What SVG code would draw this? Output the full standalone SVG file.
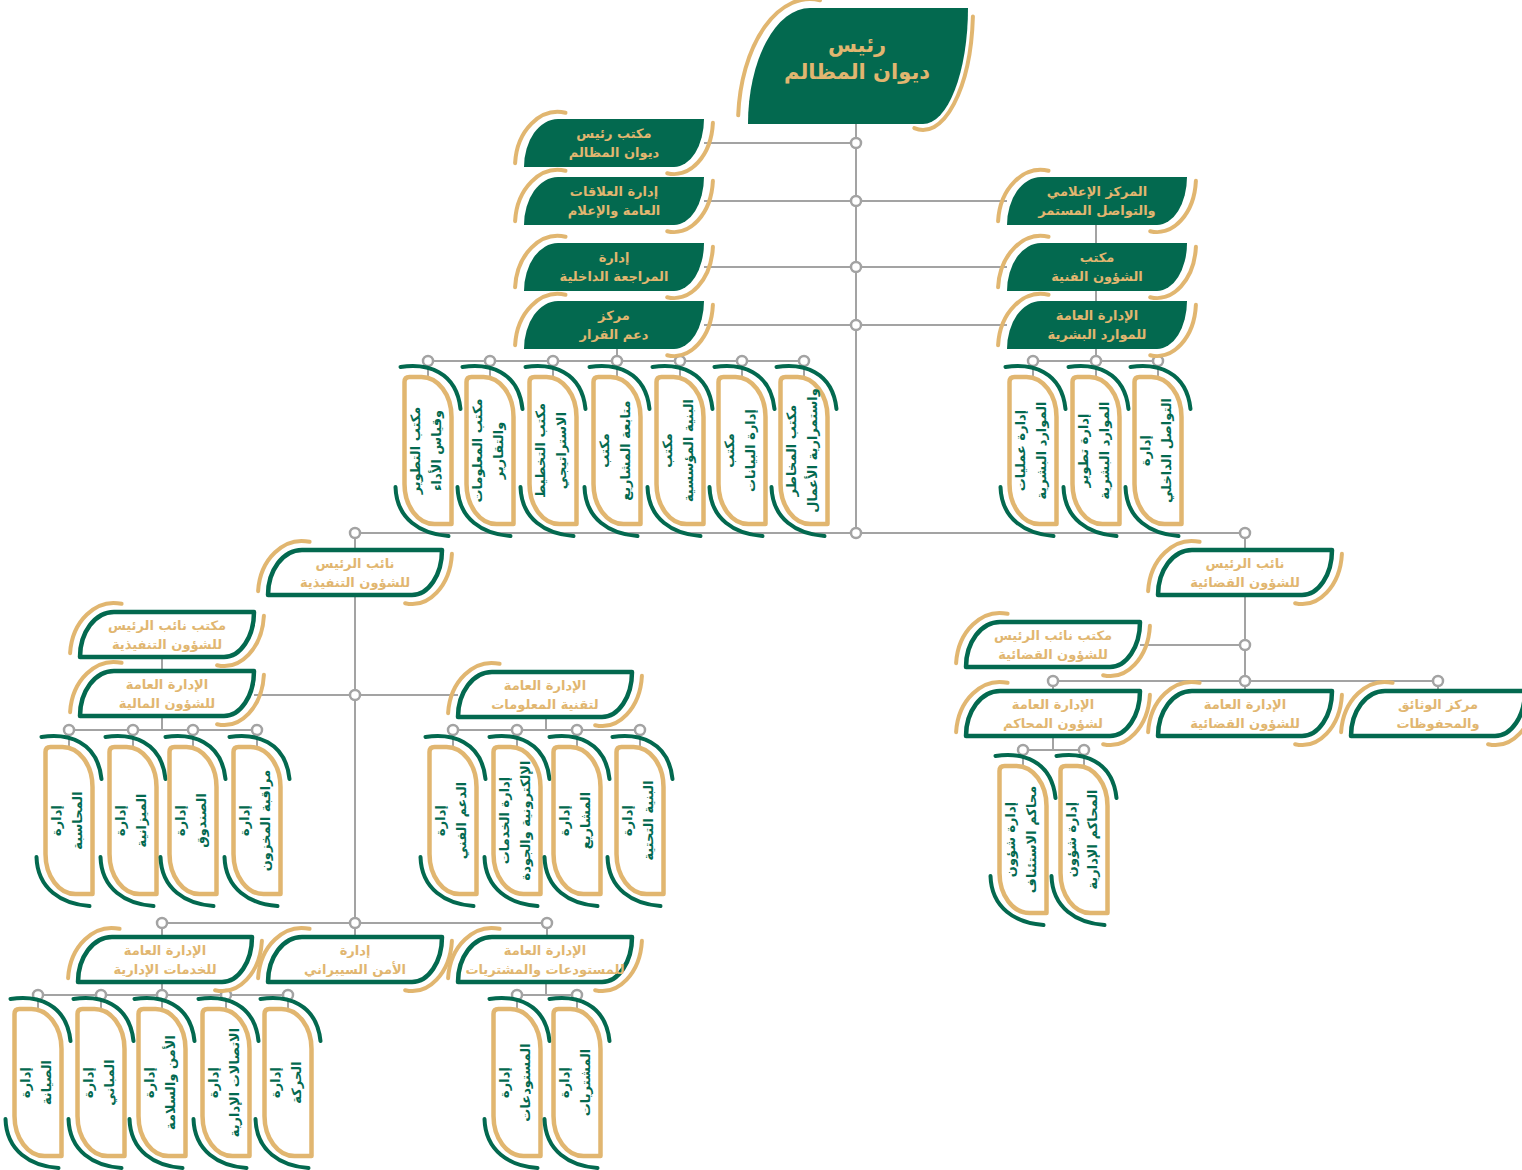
<svg xmlns="http://www.w3.org/2000/svg" xmlns:xlink="http://www.w3.org/1999/xlink" width="1522" height="1170" viewBox="0 0 1522 1170">
<style>
.hl{fill:#03694f}
.ga{fill:none;stroke:#e1b670;stroke-width:4;stroke-linecap:round}
.ol{fill:#fff;stroke:#03694f;stroke-width:4.5;stroke-linejoin:round}
.vn{fill:#fff;stroke:#e1b670;stroke-width:4.5;stroke-linejoin:round}
.gr{fill:none;stroke:#03694f;stroke-width:4;stroke-linecap:round}
.con{fill:none;stroke:#a3a3a3;stroke-width:2}
.dot{fill:#fff;stroke:#a3a3a3;stroke-width:2.5}
.th{font-family:"DejaVu Sans",sans-serif;font-weight:bold;font-size:13px;fill:#e1b670;text-anchor:middle}
.tt{font-family:"DejaVu Sans",sans-serif;font-weight:bold;font-size:21px;fill:#e1b670;text-anchor:middle}
.tv{font-family:"DejaVu Sans",sans-serif;font-weight:bold;font-size:13px;fill:#03694f;text-anchor:middle}
</style>
<defs>
<g id="hf">
<path class="hl" d="M0,48 A34,48 0 0 1 34,0 H180 A30,48 0 0 1 150,48 Z"/>
<path class="ga" d="M-8.9,44.2 A43,55 0 0 1 41.5,-6.2"/>
<path class="ga" d="M188.9,3.8 A39,55 0 0 1 143.2,54.2"/>
</g>
<g id="ho">
<path class="ol" d="M0,45 A34,45 0 0 1 34,0 H174 A30,45 0 0 1 144,45 Z"/>
<path class="ga" d="M-9.9,41.2 A44,54 0 0 1 41.6,-8.2"/>
<path class="ga" d="M183.9,3.8 A40,54 0 0 1 137.1,53.2"/>
</g>
<g id="vn">
<path class="vn" d="M0,5 Q0,0 5,0 H17 A30,40 0 0 1 47,40 V147 H30 A30,40 0 0 1 0,107 Z"/>
<path class="gr" d="M-4,-10 C22,-14 52,-6 56,32"/>
<path class="gr" d="M-9,110 C-8,142 16,157 44,159"/>
</g>
</defs>

<g id="connectors">
<path class="con" d="M856,124 V533 M704,143 H856 M704,201 H1007 M704,267 H1007 M704,325 H1007"/>
<path class="con" d="M1096,225 V243 M1096,291 V301 M1096,349 V377 M1033,361 H1158 M1033,361 V377 M1158,361 V377"/>
<path class="con" d="M617,349 V361 M428,361 H804 M428,361 V377 M490,361 V377 M553,361 V377 M617,361 V377 M680,361 V377 M742,361 V377 M804,361 V377"/>
<path class="con" d="M355,533 H1245 M355,533 V550 M355,595 V923 M254,695 H458 M162,657 V671 M162,716 V730 M69,730 H257 M69,730 V747 M133,730 V747 M193,730 V747 M257,730 V747"/>
<path class="con" d="M546,717 V730 M453,730 H640 M453,730 V747 M517,730 V747 M577,730 V747 M640,730 V747"/>
<path class="con" d="M162,923 H547 M162,923 V937 M355,923 V937 M547,923 V937 M162,982 V995 M38,995 H288 M38,995 V1009 M101,995 V1009 M162,995 V1009 M226,995 V1009 M288,995 V1009 M546,982 V995 M517,995 H577 M517,995 V1009 M577,995 V1009"/>
<path class="con" d="M1245,533 V550 M1245,596 V681 M1140,645 H1245 M1053,681 H1438 M1053,681 V691 M1245,681 V691 M1438,681 V691 M1053,736 V750 M1023,750 H1084 M1023,750 V766 M1084,750 V766"/>
<g>
<circle class="dot" cx="856" cy="143" r="5"/><circle class="dot" cx="856" cy="201" r="5"/><circle class="dot" cx="856" cy="267" r="5"/><circle class="dot" cx="856" cy="325" r="5"/><circle class="dot" cx="856" cy="533" r="5"/>
<circle class="dot" cx="355" cy="533" r="5"/><circle class="dot" cx="1245" cy="533" r="5"/>
<circle class="dot" cx="428" cy="361" r="5"/><circle class="dot" cx="490" cy="361" r="5"/><circle class="dot" cx="553" cy="361" r="5"/><circle class="dot" cx="617" cy="361" r="5"/><circle class="dot" cx="680" cy="361" r="5"/><circle class="dot" cx="742" cy="361" r="5"/><circle class="dot" cx="804" cy="361" r="5"/>
<circle class="dot" cx="1033" cy="361" r="5"/><circle class="dot" cx="1096" cy="361" r="5"/><circle class="dot" cx="1158" cy="361" r="5"/>
<circle class="dot" cx="355" cy="695" r="5"/><circle class="dot" cx="355" cy="923" r="5"/><circle class="dot" cx="162" cy="923" r="5"/><circle class="dot" cx="547" cy="923" r="5"/>
<circle class="dot" cx="69" cy="730" r="5"/><circle class="dot" cx="133" cy="730" r="5"/><circle class="dot" cx="193" cy="730" r="5"/><circle class="dot" cx="257" cy="730" r="5"/>
<circle class="dot" cx="453" cy="730" r="5"/><circle class="dot" cx="517" cy="730" r="5"/><circle class="dot" cx="577" cy="730" r="5"/><circle class="dot" cx="640" cy="730" r="5"/>
<circle class="dot" cx="38" cy="995" r="5"/><circle class="dot" cx="101" cy="995" r="5"/><circle class="dot" cx="162" cy="995" r="5"/><circle class="dot" cx="226" cy="995" r="5"/><circle class="dot" cx="288" cy="995" r="5"/>
<circle class="dot" cx="517" cy="995" r="5"/><circle class="dot" cx="577" cy="995" r="5"/>
<circle class="dot" cx="1245" cy="645" r="5"/><circle class="dot" cx="1053" cy="681" r="5"/><circle class="dot" cx="1245" cy="681" r="5"/><circle class="dot" cx="1438" cy="681" r="5"/>
<circle class="dot" cx="1023" cy="750" r="5"/><circle class="dot" cx="1084" cy="750" r="5"/>
</g>
</g>

<g id="n-president">
<path class="hl" d="M748,124 A62,116 0 0 1 810,8 H968 A45,116 0 0 1 923,124 Z"/>
<path class="ga" d="M738.2,115.3 A72,125 0 0 1 820,0.2"/>
<path class="ga" d="M972.9,16.5 A50,122 0 0 1 914.3,128.1"/>
<text class="tt" x="857" y="52">رئيس</text>
<text class="tt" x="857" y="79">ديوان المظالم</text>
</g>

<g id="n-office-president"><use href="#hf" x="524" y="119"/><text class="th" x="614" y="138">مكتب رئيس</text><text class="th" x="614" y="157">ديوان المظالم</text></g>
<g id="n-public-relations"><use href="#hf" x="524" y="177"/><text class="th" x="614" y="196">إدارة العلاقات</text><text class="th" x="614" y="215">العامة والإعلام</text></g>
<g id="n-internal-audit"><use href="#hf" x="524" y="243"/><text class="th" x="614" y="262">إدارة</text><text class="th" x="614" y="281">المراجعة الداخلية</text></g>
<g id="n-decision-support"><use href="#hf" x="524" y="301"/><text class="th" x="614" y="320">مركز</text><text class="th" x="614" y="339">دعم القرار</text></g>
<g id="n-media-center"><use href="#hf" x="1007" y="177"/><text class="th" x="1097" y="196">المركز الإعلامي</text><text class="th" x="1097" y="215">والتواصل المستمر</text></g>
<g id="n-technical-office"><use href="#hf" x="1007" y="243"/><text class="th" x="1097" y="262">مكتب</text><text class="th" x="1097" y="281">الشؤون الفنية</text></g>
<g id="n-hr"><use href="#hf" x="1007" y="301"/><text class="th" x="1097" y="320">الإدارة العامة</text><text class="th" x="1097" y="339">للموارد البشرية</text></g>

<g id="n-vp-exec"><use href="#ho" x="268" y="550"/><text class="th" x="355" y="568">نائب الرئيس</text><text class="th" x="355" y="587">للشؤون التنفيذية</text></g>
<g id="n-office-vp-exec"><use href="#ho" x="80" y="612"/><text class="th" x="167" y="630">مكتب نائب الرئيس</text><text class="th" x="167" y="649">للشؤون التنفيذية</text></g>
<g id="n-finance"><use href="#ho" x="80" y="671"/><text class="th" x="167" y="689">الإدارة العامة</text><text class="th" x="167" y="708">للشؤون المالية</text></g>
<g id="n-it"><use href="#ho" x="458" y="672"/><text class="th" x="545" y="690">الإدارة العامة</text><text class="th" x="545" y="709">لتقنية المعلومات</text></g>
<g id="n-admin-services"><use href="#ho" x="78" y="937"/><text class="th" x="165" y="955">الإدارة العامة</text><text class="th" x="165" y="974">للخدمات الإدارية</text></g>
<g id="n-cyber"><use href="#ho" x="268" y="937"/><text class="th" x="355" y="955">إدارة</text><text class="th" x="355" y="974">الأمن السيبراني</text></g>
<g id="n-warehouses"><use href="#ho" x="458" y="937"/><text class="th" x="545" y="955">الإدارة العامة</text><text class="th" x="545" y="974">للمستودعات والمشتريات</text></g>
<g id="n-vp-judicial"><use href="#ho" x="1158" y="550"/><text class="th" x="1245" y="568">نائب الرئيس</text><text class="th" x="1245" y="587">للشؤون القضائية</text></g>
<g id="n-office-vp-judicial"><use href="#ho" x="966" y="622"/><text class="th" x="1053" y="640">مكتب نائب الرئيس</text><text class="th" x="1053" y="659">للشؤون القضائية</text></g>
<g id="n-courts"><use href="#ho" x="966" y="691"/><text class="th" x="1053" y="709">الإدارة العامة</text><text class="th" x="1053" y="728">لشؤون المحاكم</text></g>
<g id="n-judicial-affairs"><use href="#ho" x="1158" y="691"/><text class="th" x="1245" y="709">الإدارة العامة</text><text class="th" x="1245" y="728">للشؤون القضائية</text></g>
<g id="n-archives"><use href="#ho" x="1351" y="691"/><text class="th" x="1438" y="709">مركز الوثائق</text><text class="th" x="1438" y="728">والمحفوظات</text></g>

<g id="n-a1"><use href="#vn" x="404.5" y="377"/><text class="tv" transform="translate(428,450.5) rotate(-90)"><tspan x="0" y="-8">مكتب التطوير</tspan><tspan x="0" y="13">وقياس الأداء</tspan></text></g>
<g id="n-a2"><use href="#vn" x="466.5" y="377"/><text class="tv" transform="translate(490,450.5) rotate(-90)"><tspan x="0" y="-8">مكتب المعلومات</tspan><tspan x="0" y="13">والتقارير</tspan></text></g>
<g id="n-a3"><use href="#vn" x="529.5" y="377"/><text class="tv" transform="translate(553,450.5) rotate(-90)"><tspan x="0" y="-8">مكتب التخطيط</tspan><tspan x="0" y="13">الاستراتيجي</tspan></text></g>
<g id="n-a4"><use href="#vn" x="593.5" y="377"/><text class="tv" transform="translate(617,450.5) rotate(-90)"><tspan x="0" y="-8">مكتب</tspan><tspan x="0" y="13">متابعة المشاريع</tspan></text></g>
<g id="n-a5"><use href="#vn" x="656.5" y="377"/><text class="tv" transform="translate(680,450.5) rotate(-90)"><tspan x="0" y="-8">مكتب</tspan><tspan x="0" y="13">البنية المؤسسية</tspan></text></g>
<g id="n-a6"><use href="#vn" x="718.5" y="377"/><text class="tv" transform="translate(742,450.5) rotate(-90)"><tspan x="0" y="-8">مكتب</tspan><tspan x="0" y="13">إدارة البيانات</tspan></text></g>
<g id="n-a7"><use href="#vn" x="780.5" y="377"/><text class="tv" transform="translate(804,450.5) rotate(-90)"><tspan x="0" y="-8">مكتب المخاطر</tspan><tspan x="0" y="13">واستمرارية الأعمال</tspan></text></g>
<g id="n-r1"><use href="#vn" x="1009.5" y="377"/><text class="tv" transform="translate(1033,450.5) rotate(-90)"><tspan x="0" y="-8">إدارة عمليات</tspan><tspan x="0" y="13">الموارد البشرية</tspan></text></g>
<g id="n-r2"><use href="#vn" x="1072.5" y="377"/><text class="tv" transform="translate(1096,450.5) rotate(-90)"><tspan x="0" y="-8">إدارة تطوير</tspan><tspan x="0" y="13">الموارد البشرية</tspan></text></g>
<g id="n-r3"><use href="#vn" x="1134.5" y="377"/><text class="tv" transform="translate(1158,450.5) rotate(-90)"><tspan x="0" y="-8">إدارة</tspan><tspan x="0" y="13">التواصل الداخلي</tspan></text></g>

<g id="n-f1"><use href="#vn" x="45.5" y="747"/><text class="tv" transform="translate(69,820.5) rotate(-90)"><tspan x="0" y="-8">إدارة</tspan><tspan x="0" y="13">المحاسبة</tspan></text></g>
<g id="n-f2"><use href="#vn" x="109.5" y="747"/><text class="tv" transform="translate(133,820.5) rotate(-90)"><tspan x="0" y="-8">إدارة</tspan><tspan x="0" y="13">الميزانية</tspan></text></g>
<g id="n-f3"><use href="#vn" x="169.5" y="747"/><text class="tv" transform="translate(193,820.5) rotate(-90)"><tspan x="0" y="-8">إدارة</tspan><tspan x="0" y="13">الصندوق</tspan></text></g>
<g id="n-f4"><use href="#vn" x="233.5" y="747"/><text class="tv" transform="translate(257,820.5) rotate(-90)"><tspan x="0" y="-8">إدارة</tspan><tspan x="0" y="13">مراقبة المخزون</tspan></text></g>
<g id="n-i1"><use href="#vn" x="429.5" y="747"/><text class="tv" transform="translate(453,820.5) rotate(-90)"><tspan x="0" y="-8">إدارة</tspan><tspan x="0" y="13">الدعم الفني</tspan></text></g>
<g id="n-i2"><use href="#vn" x="493.5" y="747"/><text class="tv" transform="translate(517,820.5) rotate(-90)"><tspan x="0" y="-8">إدارة الخدمات</tspan><tspan x="0" y="13">الإلكترونية والجودة</tspan></text></g>
<g id="n-i3"><use href="#vn" x="553.5" y="747"/><text class="tv" transform="translate(577,820.5) rotate(-90)"><tspan x="0" y="-8">إدارة</tspan><tspan x="0" y="13">المشاريع</tspan></text></g>
<g id="n-i4"><use href="#vn" x="616.5" y="747"/><text class="tv" transform="translate(640,820.5) rotate(-90)"><tspan x="0" y="-8">إدارة</tspan><tspan x="0" y="13">البنية التحتية</tspan></text></g>

<g id="n-c1"><use href="#vn" x="999.5" y="766"/><text class="tv" transform="translate(1023,839.5) rotate(-90)"><tspan x="0" y="-8">إدارة شؤون</tspan><tspan x="0" y="13">محاكم الاستئناف</tspan></text></g>
<g id="n-c2"><use href="#vn" x="1060.5" y="766"/><text class="tv" transform="translate(1084,839.5) rotate(-90)"><tspan x="0" y="-8">إدارة شؤون</tspan><tspan x="0" y="13">المحاكم الإدارية</tspan></text></g>

<g id="n-s1"><use href="#vn" x="14.5" y="1009"/><text class="tv" transform="translate(38,1082.5) rotate(-90)"><tspan x="0" y="-8">إدارة</tspan><tspan x="0" y="13">الصيانة</tspan></text></g>
<g id="n-s2"><use href="#vn" x="77.5" y="1009"/><text class="tv" transform="translate(101,1082.5) rotate(-90)"><tspan x="0" y="-8">إدارة</tspan><tspan x="0" y="13">المباني</tspan></text></g>
<g id="n-s3"><use href="#vn" x="138.5" y="1009"/><text class="tv" transform="translate(162,1082.5) rotate(-90)"><tspan x="0" y="-8">إدارة</tspan><tspan x="0" y="13">الأمن والسلامة</tspan></text></g>
<g id="n-s4"><use href="#vn" x="202.5" y="1009"/><text class="tv" transform="translate(226,1082.5) rotate(-90)"><tspan x="0" y="-8">إدارة</tspan><tspan x="0" y="13">الاتصالات الإدارية</tspan></text></g>
<g id="n-s5"><use href="#vn" x="264.5" y="1009"/><text class="tv" transform="translate(288,1082.5) rotate(-90)"><tspan x="0" y="-8">إدارة</tspan><tspan x="0" y="13">الحركة</tspan></text></g>
<g id="n-w1"><use href="#vn" x="493.5" y="1009"/><text class="tv" transform="translate(517,1082.5) rotate(-90)"><tspan x="0" y="-8">إدارة</tspan><tspan x="0" y="13">المستودعات</tspan></text></g>
<g id="n-w2"><use href="#vn" x="553.5" y="1009"/><text class="tv" transform="translate(577,1082.5) rotate(-90)"><tspan x="0" y="-8">إدارة</tspan><tspan x="0" y="13">المشتريات</tspan></text></g>
</svg>
